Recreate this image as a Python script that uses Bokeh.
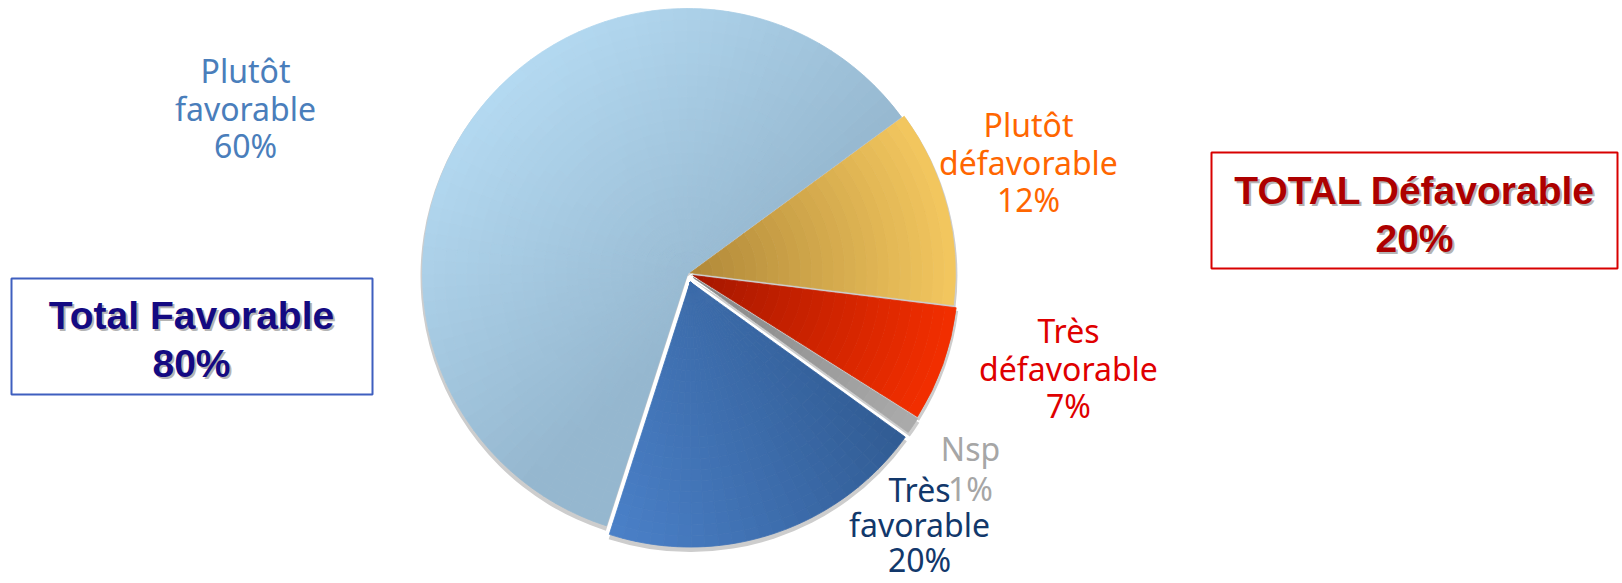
import math
from bokeh.plotting import figure
from bokeh.models import Range1d, ColumnDataSource
from bokeh.core.properties import value
from bokeh.embed import file_html
from bokeh.resources import INLINE

# ---------------- data ----------------
categories = ["Plutôt défavorable", "Plutôt favorable", "Très favorable", "Nsp", "Très défavorable"]
values = [12, 60, 20, 1, 7]
total_names = ["Total Favorable", "TOTAL Défavorable"]
total_values = [80, 20]

# ---------------- style / layout ----------------
W, H = 1622, 583
PAGE_H = 583


def Y(sy):
    return PAGE_H - sy


LAB_SIZE = 32
TOT_SIZE = 39
BASE_FIX = 0.31  # em correction for the renderer's baseline placement

label_colors = ["#FF6600", "#4A7EBB", "#12386B", "#A6A6A6", "#DF0000"]
# label anchors: center x, first baseline (screen px), line spacing
label_layout = [
    (1028, 134, 37.5),
    (245, 80, 37.5),
    (919, 499, 35.0),
    (970, 458, 40.0),
    (1068, 340, 37.5),
]
total_colors = ["#140A82", "#AD0000"]
total_layout = [(191, 327, 48), (1414, 202, 48)]
box_layout = [(11, 372, 278, 394), (1211, 1617, 152, 268)]
box_colors = ["#3F5FBF", "#D80000"]

CX, CY = 687, Y(273)
R = 265
START = math.radians(-7)
explode = [3, 0, 9, 7, 6]
grad = [
    ("radial", "#B08838", "#F3C75F"),
    ("linear", (470, 80), (700, 320), "#B6DCF4", "#95B7CF"),
    ("linear", (610, 525), (880, 400), "#4A80C8", "#315C94"),
    ("radial", "#858585", "#ABABAB"),
    ("radial", "#A51700", "#F32E00"),
]


def hex2rgb(h):
    h = h.lstrip("#")
    return tuple(int(h[i:i + 2], 16) for i in (0, 2, 4))


def mix(c0, c1, t):
    t = max(0.0, min(1.0, t))
    a, b = hex2rgb(c0), hex2rgb(c1)
    return "#%02x%02x%02x" % tuple(int(round(a[i] + (b[i] - a[i]) * t)) for i in range(3))


p = figure(width=W, height=H, x_range=Range1d(0, W), y_range=Range1d(0, H),
           output_backend="svg", toolbar_location=None,
           x_axis_type=None, y_axis_type=None, min_border=0)
p.outline_line_color = None
p.background_fill_color = "white"
p.border_fill_color = "white"

# slice angles from values
total = float(sum(values))
starts, ends = [], []
acc = START
for v in values:
    starts.append(acc)
    acc += 2 * math.pi * v / total
    ends.append(acc)

centers = []
for i in range(len(values)):
    mid = 0.5 * (starts[i] + ends[i])
    centers.append((CX + explode[i] * math.cos(mid), CY + explode[i] * math.sin(mid)))

# shadow
p.wedge(x=[c[0] for c in centers], y=[c[1] - 3 for c in centers], radius=R + 2,
        start_angle=starts, end_angle=ends, fill_color="#CDCDCD", line_color=None)

# gradient cells
NR = 24
cells = dict(x=[], y=[], ri=[], ro=[], a0=[], a1=[], c=[])
for i in range(len(values)):
    g = grad[i]
    cx, cy = centers[i]
    span = ends[i] - starts[i]
    na = 1 if g[0] == "radial" else max(1, int(math.ceil(math.degrees(span) / 3.0)))
    for k in range(NR):
        r0 = R * k / NR
        r1 = R * (k + 1) / NR
        for j in range(na):
            a0 = starts[i] + span * j / na
            a1 = starts[i] + span * (j + 1) / na
            if g[0] == "radial":
                col = mix(g[1], g[2], (k + 0.5) / NR)
            else:
                rm = 0.5 * (r0 + r1)
                am = 0.5 * (a0 + a1)
                px = cx + rm * math.cos(am)
                py = Y(cy + rm * math.sin(am))  # screen y
                (x0, y0), (x1, y1) = g[1], g[2]
                dx, dy = x1 - x0, y1 - y0
                t = ((px - x0) * dx + (py - y0) * dy) / (dx * dx + dy * dy)
                col = mix(g[3], g[4], t)
            cells["x"].append(cx)
            cells["y"].append(cy)
            cells["ri"].append(r0)
            cells["ro"].append(r1)
            cells["a0"].append(a0)
            cells["a1"].append(a1)
            cells["c"].append(col)

p.annular_wedge(x="x", y="y", inner_radius="ri", outer_radius="ro",
                start_angle="a0", end_angle="a1", fill_color="c", line_color="c",
                line_width=0.8, source=ColumnDataSource(cells))

# slice labels
lab = dict(x=[], y=[], text=[], c=[])
for i, cat in enumerate(categories):
    lines = cat.split(" ") + ["%d%%" % values[i]]
    cx, b0, sp = label_layout[i]
    for k, ln in enumerate(lines):
        lab["x"].append(cx)
        lab["y"].append(Y(b0 + k * sp) + BASE_FIX * LAB_SIZE)
        lab["text"].append(ln)
        lab["c"].append(label_colors[i])
p.text(x="x", y="y", text="text", text_color="c", text_font=value("Noto Sans"),
       text_font_size="%dpx" % LAB_SIZE, text_align="center", text_baseline="alphabetic",
       source=ColumnDataSource(lab))

# total boxes
p.quad(left=[b[0] for b in box_layout], right=[b[1] for b in box_layout],
       top=[Y(b[2]) for b in box_layout], bottom=[Y(b[3]) for b in box_layout],
       fill_color=None, line_color=box_colors, line_width=2)

tot = dict(x=[], y=[], text=[], c=[])
for i, name in enumerate(total_names):
    cx, b0, sp = total_layout[i]
    for k, ln in enumerate([name, "%d%%" % total_values[i]]):
        tot["x"].append(cx)
        tot["y"].append(Y(b0 + k * sp) + BASE_FIX * TOT_SIZE)
        tot["text"].append(ln)
        tot["c"].append(total_colors[i])
shadow = dict(x=[v + 2 for v in tot["x"]], y=[v - 2 for v in tot["y"]], text=tot["text"])
p.text(x="x", y="y", text="text", text_color="#B4B4B4", text_font=value("Liberation Sans"),
       text_font_style="bold", text_font_size="%dpx" % TOT_SIZE, text_align="center",
       text_baseline="alphabetic", source=ColumnDataSource(shadow))
p.text(x="x", y="y", text="text", text_color="c", text_font=value("Liberation Sans"),
       text_font_style="bold", text_font_size="%dpx" % TOT_SIZE, text_align="center",
       text_baseline="alphabetic", source=ColumnDataSource(tot))

with open("out.html", "w", encoding="utf-8") as f:
    f.write(file_html(p, INLINE))
